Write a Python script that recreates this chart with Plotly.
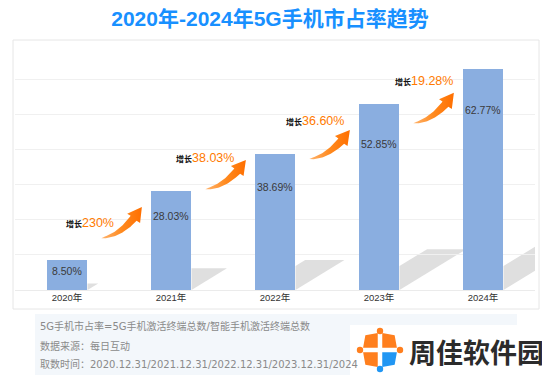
import numpy as np
import plotly.graph_objects as go

# ---------------- data ----------------
years = ["2020年", "2021年", "2022年", "2023年", "2024年"]
shares = [8.50, 28.03, 38.69, 52.85, 62.77]
share_labels = ["8.50%", "28.03%", "38.69%", "52.85%", "62.77%"]
growth_labels = ["230%", "38.03%", "36.60%", "19.28%"]
title_text = "2020年-2024年5G手机市占率趋势"
footer_lines = [
    "5G手机市占率=5G手机激活终端总数/智能手机激活终端总数",
    "数据来源：每日互动",
    "取数时间：2020.12.31/2021.12.31/2022.12.31/2023.12.31/2024",
]
logo_text = "周佳软件园"

# ---------------- layout geometry ----------------
# The page body has an 8px margin, so the figure is drawn 8px in from the
# window corner. All positions below are given in window pixels and shifted.
OFF = 8
WIN_W, WIN_H = 550, 375
W, H = WIN_W - OFF, WIN_H - OFF
PLOT_L, PLOT_R, PLOT_T, BASE = 15, 535, 44, 290     # window pixels
ML, MR, MT, MB = PLOT_L - OFF, WIN_W - PLOT_R, PLOT_T - OFF, WIN_H - BASE
PW = PLOT_R - PLOT_L
PH = BASE - PLOT_T
YMAX = 70
idx = list(range(len(years)))
BAR_W = 0.394
CJK = "Liberation Sans, Noto Sans CJK SC, sans-serif"
WIDE = "DejaVu Sans, Noto Sans CJK SC, sans-serif"

def px2x(px):
    return (px - PLOT_L) / PW * len(years) - 0.5

def py2y(py):
    return (BASE - py) / PH * YMAX

def x2px(x):
    return PLOT_L + (x + 0.5) / len(years) * PW

def y2py(y):
    return BASE - y / YMAX * PH

def ppx(px):
    return (px - PLOT_L) / PW

def ppy(py):
    return (BASE - py) / PH

fig = go.Figure()

fig.add_trace(go.Bar(
    x=idx, y=shares, width=BAR_W,
    marker=dict(color="#8aaee0", line=dict(width=0)),
    hoverinfo="skip", showlegend=False,
))

shapes = []
shapes.append(dict(type="rect", xref="paper", yref="paper",
                   x0=ppx(13), x1=ppx(539), y0=ppy(309), y1=ppy(40),
                   line=dict(color="#e6e6e6", width=1),
                   fillcolor="rgba(0,0,0,0)", layer="below"))

# bar shadows
for i, v in enumerate(shares):
    h = v / YMAX * PH
    xr = x2px(i) + BAR_W / 2 * PW / len(years)
    rise = 0.22 * h
    L = 0.36 * h
    t = min(rise, 24)
    pts = [(xr, BASE), (xr, BASE - t), (xr + (rise - t) / 0.61, BASE - rise), (xr + L, BASE - rise)]
    path = "M " + " L ".join(f"{px2x(a):.4f},{py2y(b):.4f}" for a, b in pts) + " Z"
    shapes.append(dict(type="path", xref="x", yref="y", path=path,
                       fillcolor="#dfdfdf", line=dict(width=0), layer="below"))

# curved growth arrows
arrow_y = [(14.8, 23.6), (28.7, 37.0), (37.3, 45.5), (47.5, 56.1)]

def arrow_poly(T, P, wmax=7.5, head_len=14.0, head_half=8.0):
    T = np.array(T, float); P = np.array(P, float)
    d = P - T
    C = np.array([T[0] + 0.55 * d[0], T[1] - 0.08 * abs(d[1])])
    ts = np.linspace(0, 1, 400)
    B = ((1 - ts) ** 2)[:, None] * T + (2 * (1 - ts) * ts)[:, None] * C + (ts ** 2)[:, None] * P
    dist = np.linalg.norm(B - P, axis=1)
    th = ts[np.argmin(np.abs(dist - head_len) + (ts < 0.5) * 1e6)]
    tt = np.linspace(0, th, 40)
    Bs = ((1 - tt) ** 2)[:, None] * T + (2 * (1 - tt) * tt)[:, None] * C + (tt ** 2)[:, None] * P
    D = (2 * (1 - tt))[:, None] * (C - T) + (2 * tt)[:, None] * (P - C)
    D = D / np.linalg.norm(D, axis=1)[:, None]
    N = np.stack([-D[:, 1], D[:, 0]], axis=1)
    w = wmax * (tt / th) ** 0.75 + 0.3
    left = Bs + N * (w / 2)[:, None]
    right = Bs - N * (w / 2)[:, None]
    Hc = Bs[-1]
    dh = (P - Hc) / np.linalg.norm(P - Hc)
    nh = np.array([-dh[1], dh[0]])
    poly = list(left) + [Hc + nh * head_half, P, Hc - nh * head_half] + list(right[::-1])
    return np.array(poly)

for i, (yt, yp) in enumerate(arrow_y):
    T = (x2px(i + 0.33), y2py(yt))
    P = (x2px(i + 0.72), y2py(yp))
    poly = arrow_poly(T, P)
    xs = [px2x(a) for a in poly[:, 0]]
    ys = [py2y(b) for b in poly[:, 1]]
    fig.add_trace(go.Scatter(
        x=xs + [xs[0]], y=ys + [ys[0]], mode="lines", fill="toself",
        line=dict(width=0, color="rgba(0,0,0,0)"),
        fillcolor="#ff7a00",
        fillgradient=dict(type="horizontal",
                          colorscale=[[0, "#ffb46e"], [0.5, "#ff8a1f"], [1, "#ff6f00"]]),
        hoverinfo="skip", showlegend=False,
    ))

annotations = []
label_off_px = [11, 25, 33, 40, 41]
for i, (v, lab) in enumerate(zip(shares, share_labels)):
    annotations.append(dict(x=i, y=v - label_off_px[i] / PH * YMAX, xref="x", yref="y",
                            text=lab, showarrow=False,
                            font=dict(family=CJK, size=10.5, color="#3a3a3a"),
                            xanchor="center", yanchor="middle"))

growth_pos = [(-0.029, 19.07), (1.029, 37.56), (2.087, 48.09), (3.135, 59.47)]
for (gx, gy), g in zip(growth_pos, growth_labels):
    annotations.append(dict(
        x=gx, y=gy, xref="x", yref="y", showarrow=False, xanchor="left", yanchor="middle",
        text=f"<span style='font-size:8px;color:#111'><b>增长</b></span>"
             f"<span style='font-size:12.5px;color:#ff7a00'>{g}</span>",
        font=dict(family=CJK, size=12)))

# footer
shapes.append(dict(type="rect", xref="paper", yref="paper",
                   x0=ppx(35), x1=ppx(517), y0=ppy(376), y1=ppy(314),
                   fillcolor="#f3f7fb", line=dict(width=0), layer="above"))
for line, py in zip(footer_lines, [326, 345.5, 364]):
    annotations.append(dict(x=ppx(38), y=ppy(py), xref="paper", yref="paper",
                            text=line, showarrow=False, xanchor="left", yanchor="middle",
                            font=dict(family=WIDE, size=10, color="#8a8a8a")))

# logo
shapes.append(dict(type="rect", xref="paper", yref="paper",
                   x0=ppx(350), x1=ppx(552), y0=ppy(377), y1=ppy(325),
                   fillcolor="#ffffff", line=dict(width=0), layer="above"))
cx, cy = 380, 350
petal_local = [(3, 3), (3, 16), (14, 14), (16, 3)]
for sx, sy, col in [(-1, -1, "#ff7f1e"), (1, -1, "#ff7f1e"), (-1, 1, "#ff7f1e"), (1, 1, "#2196f3")]:
    pts = [(cx + sx * a, cy + sy * b) for a, b in petal_local]
    path = "M " + " L ".join(f"{ppx(a):.5f},{ppy(b):.5f}" for a, b in pts) + " Z"
    shapes.append(dict(type="path", xref="paper", yref="paper", path=path,
                       fillcolor=col, line=dict(width=1.5, color=col), layer="above"))
for ox, oy, col in [(0, -19, "#ff7f1e"), (-20, 0, "#ff7f1e"), (20, 0, "#ff7f1e"), (0, 19, "#2196f3")]:
    r = 3.2
    shapes.append(dict(type="circle", xref="paper", yref="paper",
                       x0=ppx(cx + ox - r), x1=ppx(cx + ox + r),
                       y0=ppy(cy + oy + r), y1=ppy(cy + oy - r),
                       fillcolor=col, line=dict(width=0), layer="above"))
annotations.append(dict(x=ppx(407), y=ppy(351), xref="paper", yref="paper",
                        text=f"<b>{logo_text}</b>", showarrow=False,
                        xanchor="left", yanchor="middle",
                        font=dict(family="Noto Sans CJK SC, sans-serif", size=27, color="#2b2b2b")))

fig.update_layout(
    width=W, height=H,
    margin=dict(l=ML, r=MR, t=MT, b=MB, pad=0),
    paper_bgcolor="#ffffff", plot_bgcolor="#ffffff",
    title=dict(text=f"<b>{title_text}</b>", x=(270 - OFF) / W, xanchor="center",
               y=1 - (18.5 - OFF) / H, yanchor="middle", yref="container",
               font=dict(family=CJK, size=21, color="#1890ff")),
    xaxis=dict(range=[-0.5, len(years) - 0.5], tickvals=idx, ticktext=years,
               showgrid=False, zeroline=False, showline=False, ticks="",
               tickfont=dict(family=CJK, size=9.5, color="#333333"), fixedrange=True),
    yaxis=dict(range=[0, YMAX], dtick=10, showticklabels=False, ticks="",
               showgrid=True, gridcolor="#f0f0f0", gridwidth=1,
               zeroline=True, zerolinecolor="#ebebeb", zerolinewidth=1,
               showline=False, fixedrange=True),
    shapes=shapes, annotations=annotations,
    bargap=0, showlegend=False,
)

fig.write_html("out.html")
